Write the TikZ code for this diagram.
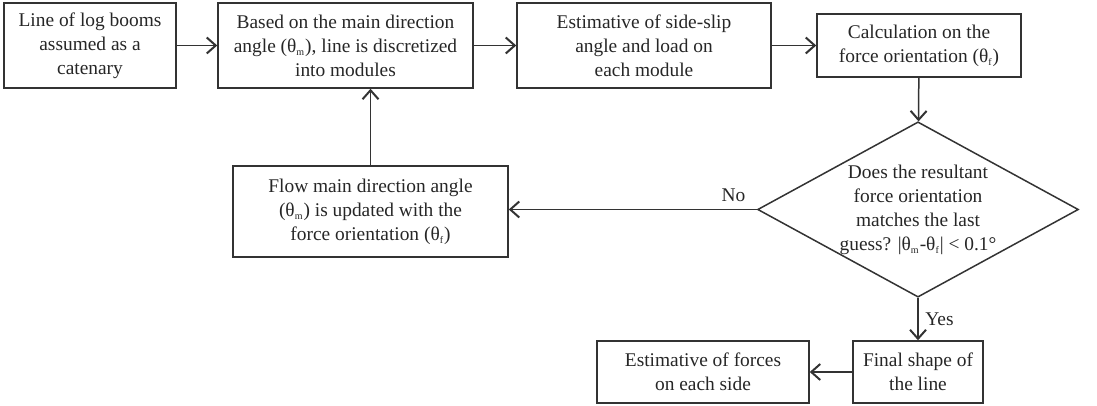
\documentclass[tikz,border=0pt]{standalone}
\usepackage{fontspec}
\setmainfont{Liberation Serif}
\usetikzlibrary{shapes.geometric,arrows.meta}
\newcommand{\angsub}[1]{θ\textsubscript{\tiny #1}}

\begin{document}
\begin{tikzpicture}[x=0.5pt,y=-0.5pt,->,>={Straight Barb[length=4.5pt,width=8pt,line width=1pt]},line width=0.75pt,draw=black!80]
		\tikzstyle{box}=[rectangle,draw=black!80,line width=0.75pt,align=center,inner sep=2pt,font=\fontsize{9.7}{12}\selectfont,text=black!85]
		\tikzstyle{decision}=[box,diamond,aspect=1.83,inner sep=0pt]
		\tikzstyle{lbl}=[font=\fontsize{9.7}{12}\selectfont,text=black!85]
		\useasboundingbox (0,0) rectangle (1097,406);
		
		\node[box,minimum width=86pt,minimum height=42.5pt] (boom) at (90,45.5) {Line of log booms\\assumed as a\\catenary};
		\node[box,minimum width=127.5pt,minimum height=42.5pt] (discr) at (345.5,45.5) {Based on the main direction\\angle (\angsub{m}), line is discretized\\into modules};
		\node[box,minimum width=127pt,minimum height=42.5pt] (slip) at (644,45.5) {Estimative of side-slip\\angle and load on\\each module};
		\node[box,minimum width=102pt,minimum height=31.5pt] (calc) at (919,45.5) {Calculation on the\\force orientation (\angsub{f})};
		\node[decision,minimum width=160pt,minimum height=87.5pt] (check) at (918,209.5) {Does the resultant\\force orientation\\matches the last\\guess? |\angsub{m}-\angsub{f}| < 0.1°};
		\node[box,minimum width=137.5pt,minimum height=45.5pt] (update) at (370.5,211.5) {Flow main direction angle\\(\angsub{m}) is updated with the\\force orientation (\angsub{f})};
		\node[box,minimum width=65pt,minimum height=31pt] (shape) at (918,372) {Final shape of\\the line};
		\node[box,minimum width=106pt,minimum height=31pt] (forces) at (703,372) {Estimative of forces\\on each side};
		
		\draw (boom) -- (discr);
		\draw (discr) -- (slip);
		\draw (slip) -- (calc);
		\draw (calc) -- (check);
		\draw (check.west) -- node[lbl,pos=0,anchor=south east,xshift=-2pt] {No} (check.west -| update.east);
		\draw (update.north) -- (update.north |- discr.south);
		\draw (check) -- node[lbl,right,pos=0.5] {Yes} (shape);
		\draw (shape) -- (forces);
		\end{tikzpicture}
\end{document}
